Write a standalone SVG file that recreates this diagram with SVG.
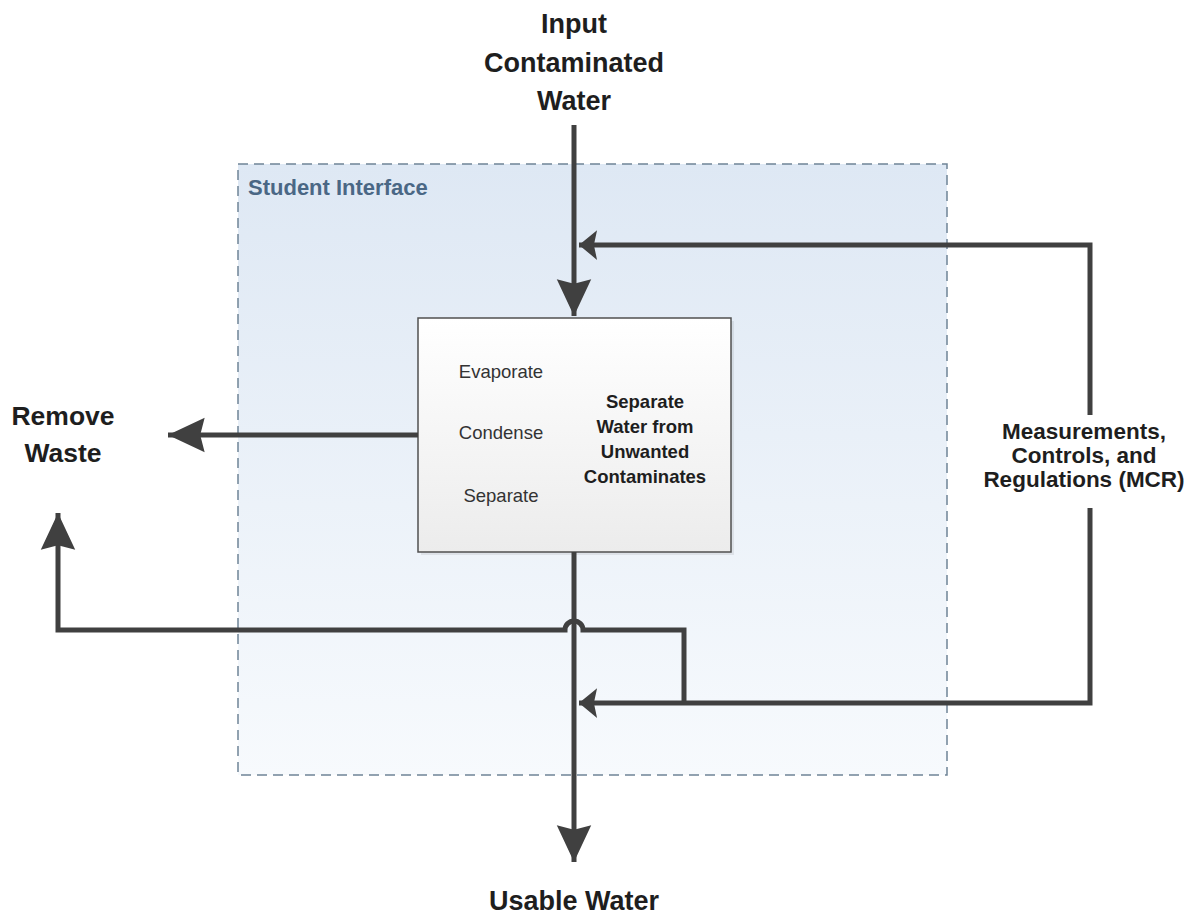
<svg xmlns="http://www.w3.org/2000/svg" width="1192" height="921" viewBox="0 0 1192 921">
<defs>
<linearGradient id="siGrad" x1="0" y1="0" x2="0" y2="1">
<stop offset="0" stop-color="#dee8f4"/>
<stop offset="1" stop-color="#f7fafd"/>
</linearGradient>
<linearGradient id="boxGrad" x1="0" y1="0" x2="0" y2="1">
<stop offset="0" stop-color="#ffffff"/>
<stop offset="1" stop-color="#ececec"/>
</linearGradient>
<marker id="arrowBig" markerUnits="userSpaceOnUse" markerWidth="40" markerHeight="40" viewBox="-34 -17 36 34" refX="0" refY="0" orient="auto">
<path d="M0,0 L-33,-15.5 L-29,0 L-33,15.5 Z" fill="#404040"/>
</marker>
<marker id="arrowSmall" markerUnits="userSpaceOnUse" markerWidth="30" markerHeight="34" viewBox="-20 -16 22 32" refX="0" refY="0" orient="auto">
<path d="M0,0 L-17,-14 L-14,0 L-17,14 Z" fill="#404040"/>
</marker>
</defs>
<style>
.lbl{font-family:"Liberation Sans",Arial,sans-serif;font-weight:bold;fill:#1e1e1e;text-anchor:middle}
.step{font-family:"Liberation Sans",Arial,sans-serif;font-size:18.5px;fill:#333333;text-anchor:middle}
.conn{fill:none;stroke:#404040;stroke-width:5;stroke-linejoin:miter}
</style>

<g id="student-interface">
<rect x="238" y="164" width="709" height="611" fill="url(#siGrad)" stroke="#6f8497" stroke-width="1.5" stroke-dasharray="10,6"/>
<text x="248" y="195" font-family="Liberation Sans, Arial, sans-serif" font-weight="bold" font-size="22" fill="#4a6785">Student Interface</text>
</g>

<g id="process">
<rect x="421" y="321" width="313" height="234" fill="#000" opacity="0.07"/>
<rect x="418" y="318" width="313" height="234" fill="url(#boxGrad)" stroke="#505050" stroke-width="1.5"/>
<text class="step" x="501" y="378">Evaporate</text>
<text class="step" x="501" y="439">Condense</text>
<text class="step" x="501" y="502">Separate</text>
<text class="lbl" x="645" font-size="18.5" fill="#2a2a2a"><tspan x="645" y="408">Separate</tspan><tspan x="645" y="433">Water from</tspan><tspan x="645" y="458">Unwanted</tspan><tspan x="645" y="483">Contaminates</tspan></text>
</g>

<g id="input-label">
<text class="lbl" font-size="27"><tspan x="574" y="33">Input</tspan><tspan x="574" y="72">Contaminated</tspan><tspan x="574" y="110">Water</tspan></text>
</g>

<g id="remove-waste-label">
<text class="lbl" font-size="26.5"><tspan x="63" y="425">Remove</tspan><tspan x="63" y="462">Waste</tspan></text>
</g>

<g id="mcr-label">
<text class="lbl" font-size="22.5"><tspan x="1084" y="439">Measurements,</tspan><tspan x="1084" y="463">Controls, and</tspan><tspan x="1084" y="487">Regulations (MCR)</tspan></text>
</g>

<g id="usable-water-label">
<text class="lbl" font-size="27"><tspan x="574" y="910">Usable Water</tspan></text>
</g>

<g id="connectors">
<path class="conn" d="M574,125 L574,316" marker-end="url(#arrowBig)"/>
<path class="conn" d="M1090,508 L1090,703 L579,703" marker-end="url(#arrowSmall)"/>
<path class="conn" d="M1090,415 L1090,245 L579,245" marker-end="url(#arrowSmall)"/>
<path class="conn" d="M418,435 L168,435" marker-end="url(#arrowBig)"/>
<path class="conn" d="M574,552 L574,862" marker-end="url(#arrowBig)"/>
<path class="conn" d="M684,703 L684,630 L583,630 A9,9 0 0 0 565,630 L58,630 L58,513" marker-end="url(#arrowBig)"/>
</g>
</svg>
